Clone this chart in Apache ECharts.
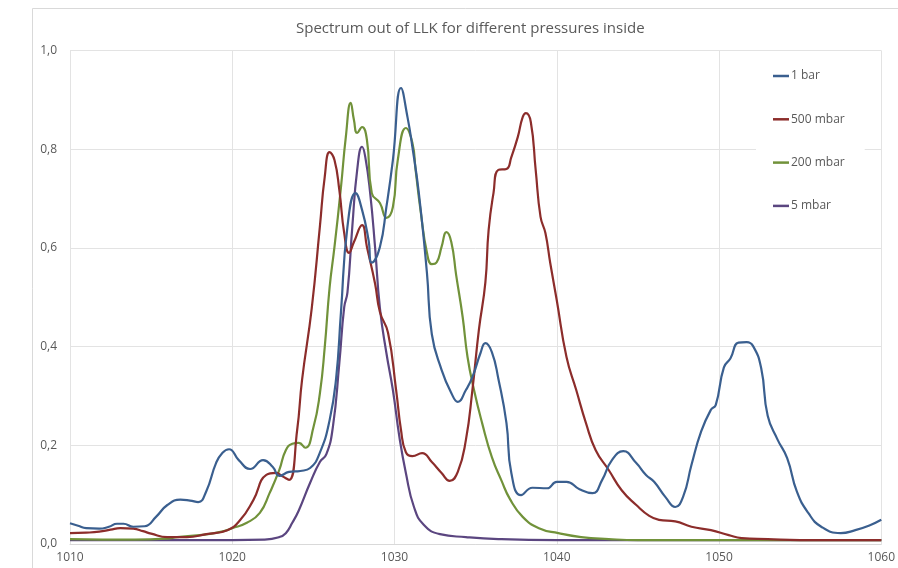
<!DOCTYPE html>
<html>
<head>
<meta charset="utf-8">
<script src="https://cdn.jsdelivr.net/npm/echarts@6/dist/echarts.min.js"></script>
<style>
html,body{margin:0;padding:0;background:#fff;}
#chart{width:898px;height:568px;}
</style>
</head>
<body>
<div id="chart"></div>
<script>
// ---- Data (wavelength x, intensity y) ----
const seriesNames = ['1 bar', '500 mbar', '200 mbar', '5 mbar'];
const xTicks = [1010, 1020, 1030, 1040, 1050, 1060];
const yTicks = [0, 0.2, 0.4, 0.6, 0.8, 1.0];

const x1bar = [1010.0,1010.5,1011.0,1011.8,1012.4,1012.9,1013.3,1013.9,1014.6,1015.3,1016.0,1016.8,1017.4,1017.9,1018.4,1019.0,1019.4,1019.8,1020.4,1021.1,1021.9,1022.5,1022.9,1023.5,1024.2,1024.8,1025.4,1026.0,1026.4,1026.7,1027.1,1027.6,1028.0,1028.4,1028.6,1029.1,1029.5,1029.9,1030.4,1030.8,1031.1,1031.5,1032.0,1032.3,1032.9,1033.5,1033.9,1034.4,1034.8,1035.3,1035.6,1036.0,1036.4,1036.9,1037.2,1037.8,1038.5,1039.4,1040.0,1040.6,1041.4,1042.2,1042.8,1043.4,1044.1,1044.9,1045.5,1046.0,1046.7,1047.3,1047.8,1048.3,1048.9,1049.5,1049.8,1050.3,1050.7,1051.2,1051.7,1052.1,1052.6,1053.0,1053.6,1054.2,1054.8,1055.5,1056.3,1057.5,1058.4,1059.3,1060.0];
const y1bar = [0.042,0.037,0.032,0.031,0.035,0.041,0.041,0.035,0.036,0.055,0.079,0.090,0.088,0.085,0.107,0.164,0.185,0.192,0.170,0.152,0.170,0.156,0.138,0.146,0.148,0.154,0.185,0.251,0.335,0.470,0.643,0.711,0.677,0.616,0.570,0.602,0.683,0.778,0.924,0.865,0.805,0.711,0.549,0.425,0.353,0.306,0.288,0.312,0.338,0.387,0.407,0.389,0.335,0.245,0.144,0.099,0.114,0.113,0.126,0.126,0.111,0.103,0.130,0.170,0.188,0.164,0.140,0.126,0.095,0.075,0.097,0.160,0.228,0.272,0.282,0.358,0.376,0.408,0.409,0.401,0.356,0.260,0.212,0.174,0.106,0.063,0.035,0.022,0.028,0.038,0.049];

const x500 = [1010.0,1011.0,1011.8,1012.5,1013.1,1013.9,1014.5,1015.0,1016.0,1017.2,1018.4,1019.7,1020.5,1021.3,1022.1,1022.7,1023.1,1023.5,1024.0,1024.3,1024.9,1025.4,1025.7,1026.0,1026.3,1026.6,1026.9,1027.2,1027.5,1028.0,1028.3,1028.8,1029.1,1029.6,1030.1,1030.4,1030.7,1031.1,1031.7,1032.3,1032.9,1033.4,1033.9,1034.4,1034.8,1035.2,1035.6,1035.8,1036.1,1036.4,1036.9,1037.2,1037.6,1037.9,1038.1,1038.4,1038.7,1039.0,1039.3,1039.6,1040.0,1040.6,1041.2,1041.8,1042.4,1043.2,1044.0,1044.9,1045.7,1046.3,1047.3,1048.3,1049.5,1050.6,1051.4,1053.0,1055.0,1060.0];
const y500 = [0.022,0.023,0.025,0.029,0.032,0.031,0.026,0.021,0.014,0.014,0.020,0.028,0.049,0.089,0.140,0.144,0.137,0.130,0.231,0.332,0.478,0.643,0.744,0.794,0.778,0.717,0.630,0.590,0.612,0.646,0.602,0.528,0.470,0.428,0.312,0.231,0.186,0.178,0.184,0.166,0.144,0.128,0.146,0.211,0.312,0.434,0.530,0.636,0.711,0.758,0.760,0.784,0.825,0.865,0.873,0.855,0.758,0.663,0.630,0.569,0.494,0.379,0.312,0.245,0.190,0.150,0.109,0.079,0.057,0.049,0.046,0.035,0.028,0.018,0.012,0.010,0.008,0.008];

const x200 = [1010.0,1012.0,1014.0,1016.0,1016.6,1018.0,1019.2,1020.0,1020.9,1021.7,1022.3,1022.9,1023.3,1023.7,1024.1,1024.5,1025.0,1025.4,1025.7,1026.0,1026.3,1026.7,1027.0,1027.3,1027.5,1027.7,1028.0,1028.3,1028.6,1029.1,1029.5,1029.9,1030.2,1030.7,1031.1,1031.3,1031.6,1032.0,1032.3,1032.6,1032.9,1033.2,1033.5,1033.8,1034.2,1034.5,1034.9,1035.4,1036.0,1036.6,1037.1,1037.9,1038.9,1040.1,1041.5,1043.2,1045.0,1060.0];
const y200 = [0.010,0.009,0.009,0.011,0.014,0.018,0.024,0.032,0.043,0.063,0.103,0.150,0.190,0.203,0.205,0.195,0.236,0.305,0.399,0.520,0.602,0.723,0.825,0.894,0.859,0.833,0.845,0.819,0.711,0.691,0.661,0.683,0.778,0.843,0.813,0.758,0.677,0.590,0.567,0.571,0.602,0.632,0.612,0.545,0.460,0.379,0.312,0.245,0.176,0.128,0.092,0.055,0.032,0.022,0.014,0.010,0.008,0.008];

const x5 = [1010.0,1015.0,1020.0,1022.0,1022.9,1023.3,1023.7,1024.1,1024.8,1025.4,1025.8,1026.2,1026.6,1026.9,1027.1,1027.4,1027.7,1028.0,1028.2,1028.5,1028.8,1029.1,1029.5,1029.9,1030.3,1030.7,1031.2,1031.8,1032.8,1034.4,1036.4,1040.0,1060.0];
const y5 = [0.008,0.008,0.008,0.009,0.014,0.022,0.043,0.068,0.124,0.166,0.182,0.237,0.367,0.480,0.510,0.643,0.758,0.805,0.784,0.711,0.602,0.478,0.387,0.312,0.217,0.144,0.075,0.039,0.020,0.014,0.010,0.008,0.008];

const colors = ['#3A5F8F', '#8C2D2B', '#71923A', '#5B4680'];
const xs = [x1bar, x500, x200, x5];
const ys = [y1bar, y500, y200, y5];

const zip = (a, b) => a.map((v, i) => [v, b[i]]);
const font = "'Open Sans', 'Liberation Sans', sans-serif";

const chart = echarts.init(document.getElementById('chart'), null, {renderer: 'canvas'});
chart.setOption({
  animation: false,
  backgroundColor: '#fff',
  color: colors,
  title: {
    text: 'Spectrum out of LLK for different pressures inside',
    left: 291, top: 16,
    textStyle: {fontFamily: font, fontSize: 15, fontWeight: 'normal', color: '#595959'}
  },
  graphic: [{
    type: 'rect', silent: true, z: -1,
    shape: {x: 32.5, y: 8.5, width: 1000, height: 1000},
    style: {fill: 'none', stroke: '#d9d9d9', lineWidth: 1}
  }],
  legend: {
    orient: 'vertical',
    left: 756, top: 63,
    padding: [6, 20, 6, 17],
    backgroundColor: '#fff',
    icon: 'rect', itemWidth: 16, itemHeight: 2.5,
    itemGap: 29.3,
    data: seriesNames,
    textStyle: {fontFamily: font, fontSize: 12, color: '#595959', lineHeight: 14, padding: [0, 0, 0, -3]}
  },
  grid: {left: 70, right: 15, top: 50.5, bottom: 24, containLabel: false},
  xAxis: {
    type: 'value', min: xTicks[0], max: xTicks[xTicks.length - 1], interval: 10,
    axisLine: {show: true, lineStyle: {color: '#d9d9d9'}},
    axisTick: {show: false},
    splitLine: {show: true, lineStyle: {color: '#e3e3e3'}},
    axisLabel: {fontFamily: font, fontSize: 12, color: '#595959', margin: 8, showMaxLabel: true,
      formatter: v => String(Math.round(v))}
  },
  yAxis: {
    type: 'value', min: yTicks[0], max: yTicks[yTicks.length - 1], interval: 0.2,
    axisLine: {show: false},
    axisTick: {show: false},
    splitLine: {show: true, lineStyle: {color: '#e3e3e3'}},
    axisLabel: {fontFamily: font, fontSize: 12, color: '#595959', margin: 13,
      formatter: v => v.toFixed(1).replace('.', ',')}
  },
  series: seriesNames.map((name, i) => ({
    name: name,
    type: 'line',
    data: zip(xs[i], ys[i]),
    showSymbol: false,
    smooth: 0.5,
    lineStyle: {width: 2.2, color: colors[i]},
    itemStyle: {color: colors[i]},
    z: 10 - i
  }))
});
</script>
</body>
</html>
